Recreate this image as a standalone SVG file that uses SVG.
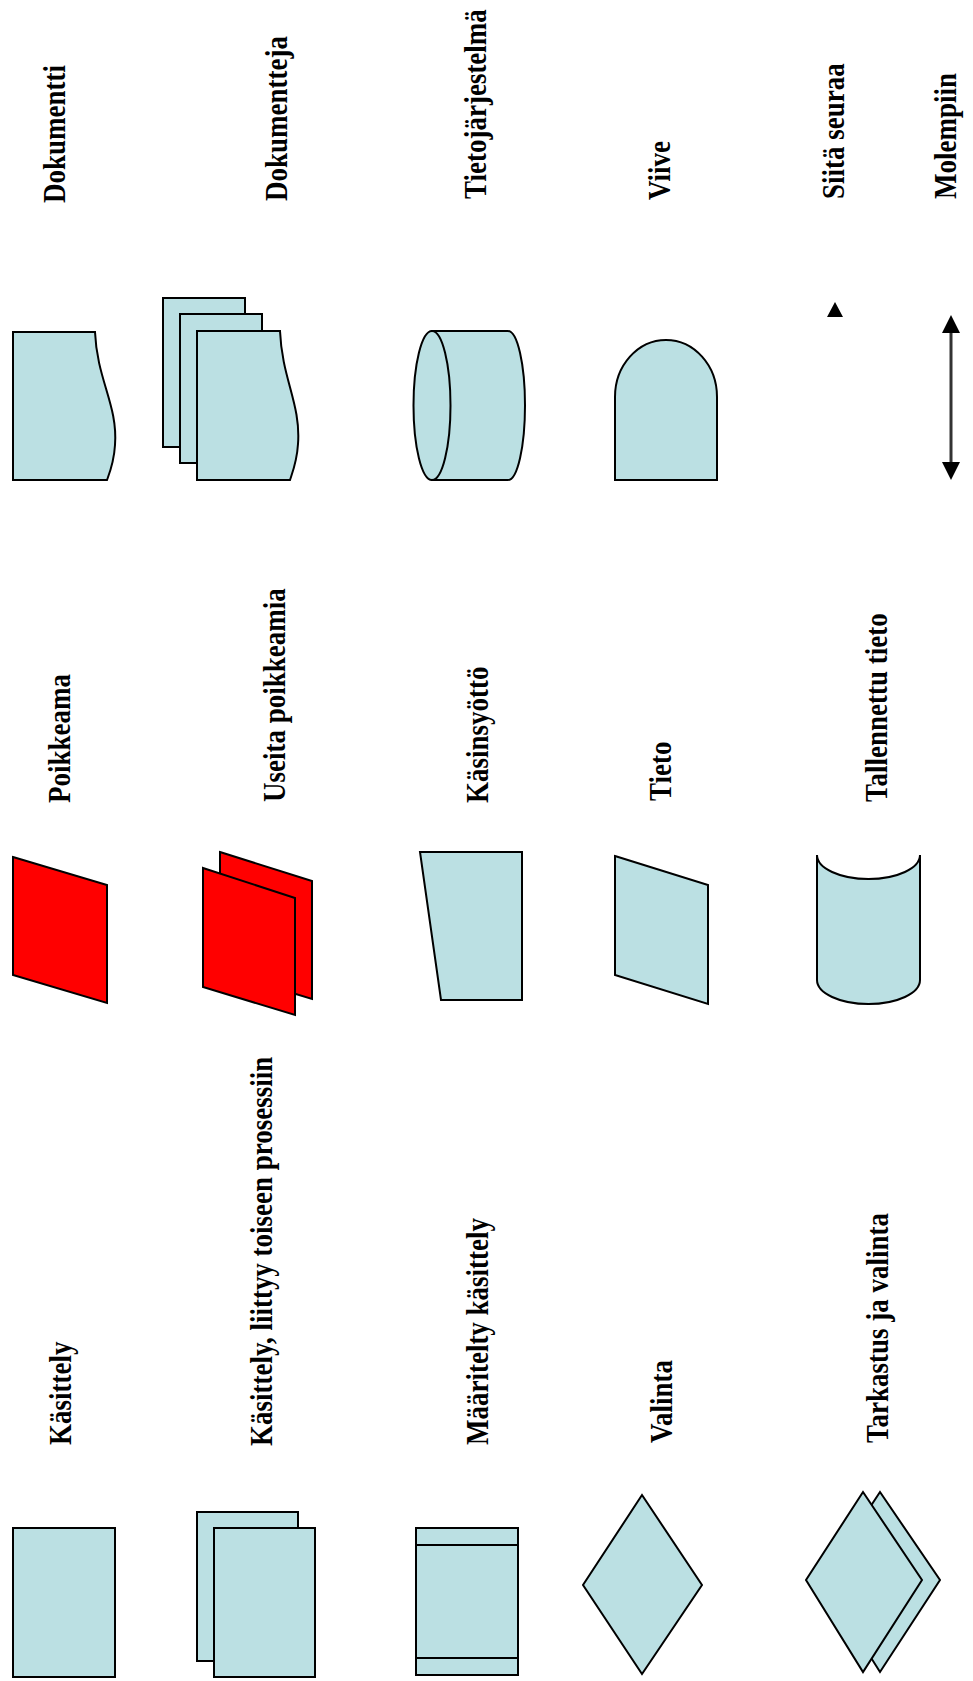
<svg xmlns="http://www.w3.org/2000/svg" width="973" height="1681" viewBox="0 0 973 1681">
<style>
.s{fill:#BBE0E3;stroke:#000;stroke-width:2;stroke-linejoin:miter}
.r{fill:#FF0000;stroke:#000;stroke-width:2}
.t{font-family:"Liberation Serif","Times New Roman",serif;font-weight:bold;font-size:27px;fill:#000}
</style>
<rect width="973" height="1681" fill="#fff"/>

<!-- Top row -->
<g id="dokumentti">
<path class="s" d="M13,332 H95 C97,380 118,405 115,445 C114,462 110,472 107,480 H13 Z"/>
<text class="t" transform="translate(65,203) rotate(-90) scale(1,1.15)">Dokumentti</text>
</g>
<g id="dokumentteja">
<rect class="s" x="163" y="298" width="82" height="149"/>
<rect class="s" x="180" y="314" width="82" height="149"/>
<path class="s" d="M197,331 H280 C282,379 301,404 298,444 C297,461 293,471 290,480 H197 Z"/>
<text class="t" transform="translate(287,201) rotate(-90) scale(1,1.15)">Dokumentteja</text>
</g>
<g id="tietojarjestelma">
<path class="s" d="M432,331 H508 A17,74.5 0 0 1 508,480 H432 Z"/>
<ellipse class="s" cx="432" cy="405.5" rx="18.5" ry="74.5"/>
<text class="t" transform="translate(486,199) rotate(-90) scale(1,1.15)">Tietojärjestelmä</text>
</g>
<g id="viive">
<path class="s" d="M615,480 V397 A51,57 0 0 1 717,397 V480 Z"/>
<text class="t" transform="translate(670,200) rotate(-90) scale(1,1.15)">Viive</text>
</g>
<g id="connectors">
<g id="siita-seuraa">
<path d="M835,302 L843,317 L827,317 Z" fill="#000"/>
<text class="t" transform="translate(844,199) rotate(-90) scale(1,1.15)">Siitä seuraa</text>
</g>
<g id="molempiin">
<line x1="951" y1="332" x2="951" y2="464" stroke="#333" stroke-width="3"/>
<path d="M951,315 L960,333 L942,333 Z" fill="#000"/>
<path d="M951,480 L960,462 L942,462 Z" fill="#000"/>
<text class="t" transform="translate(956,199) rotate(-90) scale(1,1.15)">Molempiin</text>
</g>
</g>

<!-- Middle row -->
<g id="poikkeama">
<polygon class="r" points="13,857 107,885 107,1003 13,975"/>
<text class="t" transform="translate(70,803) rotate(-90) scale(1,1.15)">Poikkeama</text>
</g>
<g id="useita-poikkeamia">
<polygon class="r" points="220,852 312,881 312,999 220,971"/>
<polygon class="r" points="203,868 295,898 295,1015 203,987"/>
<text class="t" transform="translate(285,802) rotate(-90) scale(1,1.15)">Useita poikkeamia</text>
</g>
<g id="kasinsyotto">
<polygon class="s" points="420,852 522,852 522,1000 441,1000"/>
<text class="t" transform="translate(488,803) rotate(-90) scale(1,1.15)">Käsinsyöttö</text>
</g>
<g id="tieto">
<polygon class="s" points="615,856 708,885 708,1004 615,975"/>
<text class="t" transform="translate(671,801) rotate(-90) scale(1,1.15)">Tieto</text>
</g>
<g id="tallennettu-tieto">
<path class="s" d="M817,855 A51.5,24 0 0 0 920,855 V980 A51.5,24 0 0 1 817,980 Z"/>
<text class="t" transform="translate(887,802) rotate(-90) scale(1,1.15)">Tallennettu tieto</text>
</g>

<!-- Bottom row -->
<g id="kasittely">
<rect class="s" x="13" y="1528" width="102" height="149"/>
<text class="t" transform="translate(71,1445) rotate(-90) scale(1,1.15)">Käsittely</text>
</g>
<g id="kasittely-liittyy">
<rect class="s" x="197" y="1512" width="101" height="149"/>
<rect class="s" x="214" y="1528" width="101" height="149"/>
<text class="t" transform="translate(272,1446) rotate(-90) scale(1,1.15)">Käsittely, liittyy toiseen prosessiin</text>
</g>
<g id="maaritelty-kasittely">
<rect class="s" x="416" y="1528" width="102" height="147"/>
<line x1="416" y1="1545" x2="518" y2="1545" stroke="#000" stroke-width="2"/>
<line x1="416" y1="1658" x2="518" y2="1658" stroke="#000" stroke-width="2"/>
<text class="t" transform="translate(488,1445) rotate(-90) scale(1,1.15)">Määritelty käsittely</text>
</g>
<g id="valinta">
<polygon class="s" points="642,1495 702,1585 642,1674 583,1585"/>
<text class="t" transform="translate(672,1443) rotate(-90) scale(1,1.15)">Valinta</text>
</g>
<g id="tarkastus-ja-valinta">
<polygon class="s" points="880,1492 940,1580 880,1672 822,1580"/>
<polygon class="s" points="863,1492 922,1580 863,1672 806,1580"/>
<text class="t" transform="translate(888,1443) rotate(-90) scale(1,1.15)">Tarkastus ja valinta</text>
</g>
</svg>
